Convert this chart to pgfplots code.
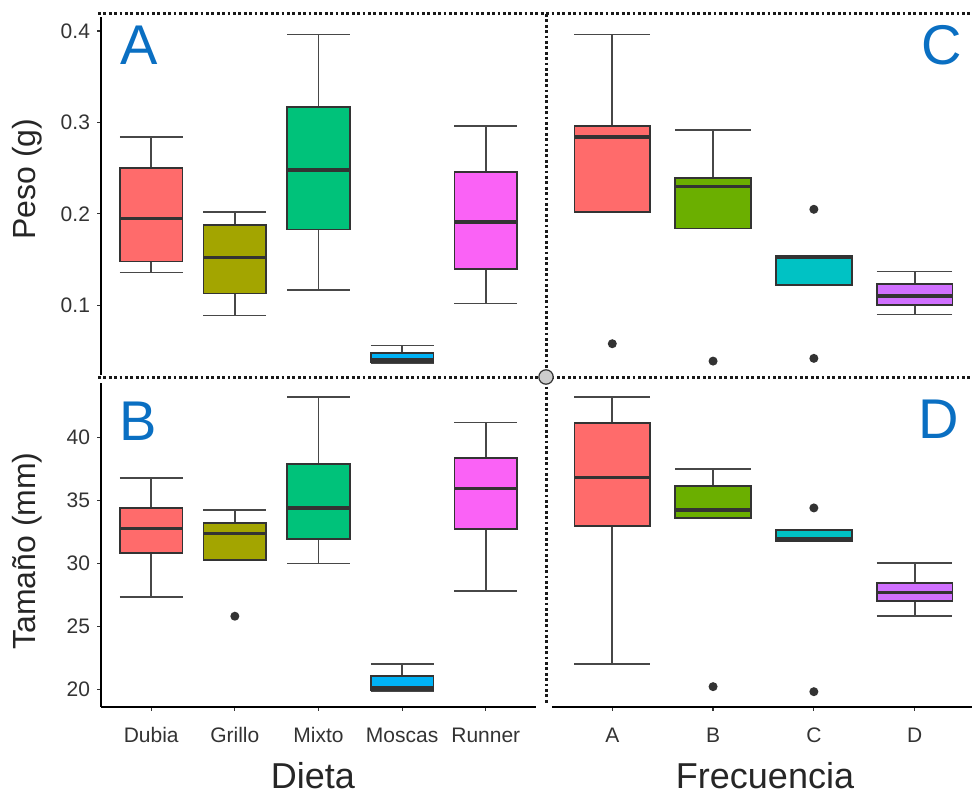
\documentclass[border=0pt]{standalone}
\usepackage{pgfplots}
\pgfplotsset{compat=1.18}
\usepgfplotslibrary{statistics}
\usepackage{fontspec}
\setmainfont{Liberation Sans}
\definecolor{cDubia}{HTML}{FF6B6B}
\definecolor{cGrillo}{HTML}{A3A500}
\definecolor{cMixto}{HTML}{00C27A}
\definecolor{cMoscas}{HTML}{00B2F5}
\definecolor{cRunner}{HTML}{FA62F6}
\definecolor{cA}{HTML}{FF6B6B}
\definecolor{cB}{HTML}{6BAF00}
\definecolor{cC}{HTML}{00C2C4}
\definecolor{cD}{HTML}{D070FF}
\definecolor{boxline}{HTML}{333333}
\definecolor{lettblue}{HTML}{0A6FC2}
\pgfplotsset{
  myax/.style={
    scale only axis,
    tick align=outside,
    major tick length=2pt,
    tick style={boxline, line width=0.6pt},
    axis line style={black, line width=0.8pt},
    ticklabel style={font=\fontsize{10.5}{12}\selectfont, text=boxline},
    /pgf/number format/assume math mode=true,
    boxplot/draw direction=y,
    boxplot/box extend=0.75,
    boxplot/whisker extend=0.75,
    boxplot/every median/.style={line width=1.7pt},
    boxplot/every whisker/.style={line width=0.85pt, draw=boxline!90},
    boxplot/every box/.style={line width=0.9pt},
  },
  bx/.style={solid, draw=boxline, line width=0.85pt, mark=*, mark size=1.8pt,
    mark options={fill=boxline, draw=boxline}},
}
\begin{document}
\begin{tikzpicture}
\useasboundingbox (0,0) rectangle (486pt,396.5pt);
% ---------- Panel A ----------
\begin{axis}[myax, at={(50.5pt,209pt)}, anchor=south west,
  width=217.5pt, height=179pt,
  xmin=0.4, xmax=5.6, ymin=0.0238, ymax=0.4153,
  axis x line=none, axis y line*=left,
  ytick={0.1,0.2,0.3,0.4}, yticklabels={0.1,0.2,0.3,0.4}]
\addplot+[bx, fill=cDubia, boxplot prepared={draw position=1, lower whisker=0.136, lower quartile=0.148, median=0.195, upper quartile=0.250, upper whisker=0.284}] coordinates {};
\addplot+[bx, fill=cGrillo, boxplot prepared={draw position=2, lower whisker=0.089, lower quartile=0.113, median=0.152, upper quartile=0.188, upper whisker=0.202}] coordinates {};
\addplot+[bx, fill=cMixto, boxplot prepared={draw position=3, lower whisker=0.117, lower quartile=0.183, median=0.248, upper quartile=0.317, upper whisker=0.396}] coordinates {};
\addplot+[bx, fill=cMoscas, boxplot prepared={draw position=4, lower whisker=0.037, lower quartile=0.038, median=0.040, upper quartile=0.048, upper whisker=0.056}] coordinates {};
\addplot+[bx, fill=cRunner, boxplot prepared={draw position=5, lower whisker=0.102, lower quartile=0.140, median=0.191, upper quartile=0.246, upper whisker=0.296}] coordinates {};
\end{axis}
% ---------- Panel C ----------
\begin{axis}[myax, at={(275.9pt,209pt)}, anchor=south west,
  width=210.1pt, height=179pt,
  xmin=0.4, xmax=4.569, ymin=0.0238, ymax=0.4153,
  axis lines=none]
\addplot+[bx, fill=cA, boxplot prepared={draw position=1, lower whisker=0.202, lower quartile=0.202, median=0.284, upper quartile=0.296, upper whisker=0.396}] table[row sep=\\, y index=0] {y\\ 0.058\\};
\addplot+[bx, fill=cB, boxplot prepared={draw position=2, lower whisker=0.184, lower quartile=0.184, median=0.230, upper quartile=0.239, upper whisker=0.292}] table[row sep=\\, y index=0] {y\\ 0.039\\};
\addplot+[bx, fill=cC, boxplot prepared={draw position=3, lower whisker=0.122, lower quartile=0.122, median=0.152, upper quartile=0.154, upper whisker=0.154}] table[row sep=\\, y index=0] {y\\ 0.205\\ 0.042\\};
\addplot+[bx, fill=cD, boxplot prepared={draw position=4, lower whisker=0.090, lower quartile=0.100, median=0.110, upper quartile=0.123, upper whisker=0.137}] coordinates {};
\end{axis}
% ---------- Panel B ----------
\begin{axis}[myax, at={(50.5pt,43.15pt)}, anchor=south west,
  width=217.5pt, height=161.85pt,
  xmin=0.4, xmax=5.6, ymin=18.65, ymax=44.3,
  axis x line*=bottom, axis y line*=left,
  xtick={1,2,3,4,5}, xticklabels={Dubia,Grillo,Mixto,Moscas,Runner},
  xticklabel style={yshift=-5pt},
  ytick={20,25,30,35,40}, yticklabels={20,25,30,35,40}]
\addplot+[bx, fill=cDubia, boxplot prepared={draw position=1, lower whisker=27.37, lower quartile=30.86, median=32.76, upper quartile=34.37, upper whisker=36.75}] coordinates {};
\addplot+[bx, fill=cGrillo, boxplot prepared={draw position=2, lower whisker=30.28, lower quartile=30.28, median=32.36, upper quartile=33.23, upper whisker=34.24}] table[row sep=\\, y index=0] {y\\ 25.82\\};
\addplot+[bx, fill=cMixto, boxplot prepared={draw position=3, lower whisker=30.00, lower quartile=31.97, median=34.40, upper quartile=37.88, upper whisker=43.17}] coordinates {};
\addplot+[bx, fill=cMoscas, boxplot prepared={draw position=4, lower whisker=19.85, lower quartile=19.98, median=20.15, upper quartile=21.11, upper whisker=22.01}] coordinates {};
\addplot+[bx, fill=cRunner, boxplot prepared={draw position=5, lower whisker=27.82, lower quartile=32.73, median=35.93, upper quartile=38.38, upper whisker=41.16}] coordinates {};
\end{axis}
% ---------- Panel D ----------
\begin{axis}[myax, at={(275.9pt,43.15pt)}, anchor=south west,
  width=210.1pt, height=161.85pt,
  xmin=0.4, xmax=4.569, ymin=18.65, ymax=44.3,
  axis x line*=bottom, axis y line=none,
  xtick={1,2,3,4}, xticklabels={A,B,C,D},
  xticklabel style={yshift=-5pt}]
\addplot+[bx, fill=cA, boxplot prepared={draw position=1, lower whisker=22.04, lower quartile=32.97, median=36.80, upper quartile=41.11, upper whisker=43.17}] coordinates {};
\addplot+[bx, fill=cB, boxplot prepared={draw position=2, lower whisker=33.58, lower quartile=33.58, median=34.24, upper quartile=36.17, upper whisker=37.49}] table[row sep=\\, y index=0] {y\\ 20.24\\};
\addplot+[bx, fill=cC, boxplot prepared={draw position=3, lower whisker=31.78, lower quartile=31.78, median=31.97, upper quartile=32.65, upper whisker=32.65}] table[row sep=\\, y index=0] {y\\ 34.40\\ 19.84\\};
\addplot+[bx, fill=cD, boxplot prepared={draw position=4, lower whisker=25.86, lower quartile=27.03, median=27.69, upper quartile=28.43, upper whisker=30.06}] coordinates {};
\end{axis}
% ---------- separators ----------
\draw[black!90, line width=1.5pt, dash pattern=on 1.4pt off 1.3pt] (49pt,389.5pt) -- (486pt,389.5pt);
\draw[black!90, line width=1.5pt, dash pattern=on 1.4pt off 1.3pt] (49pt,208pt) -- (486pt,208pt);
\draw[black!90, line width=1.5pt, dash pattern=on 1.4pt off 1.3pt] (273pt,389.5pt) -- (273pt,44pt);
\draw[fill=black!20, draw=boxline, line width=0.6pt] (273pt,208pt) circle (3.6pt);
% ---------- labels ----------
\node[rotate=90, anchor=base, font=\fontsize{16}{18}\selectfont, text=black!85] at (17.5pt,307pt) {Peso (g)};
\node[rotate=90, anchor=base, font=\fontsize{16}{18}\selectfont, text=black!85] at (17.5pt,121pt) {Tamaño (mm)};
\node[anchor=base, font=\fontsize{18}{20}\selectfont, text=black!85] at (156.5pt,2.5pt) {Dieta};
\node[anchor=base, font=\fontsize{18}{20}\selectfont, text=black!85] at (382.5pt,2.5pt) {Frecuencia};
\node[anchor=base, font=\fontsize{28}{30}\selectfont, text=lettblue] at (69.5pt,364pt) {A};
\node[anchor=base, font=\fontsize{28}{30}\selectfont, text=lettblue] at (69pt,176.5pt) {B};
\node[anchor=base, font=\fontsize{28}{30}\selectfont, text=lettblue] at (471pt,364pt) {C};
\node[anchor=base, font=\fontsize{28}{30}\selectfont, text=lettblue] at (469.5pt,177.4pt) {D};
\end{tikzpicture}
\end{document}
